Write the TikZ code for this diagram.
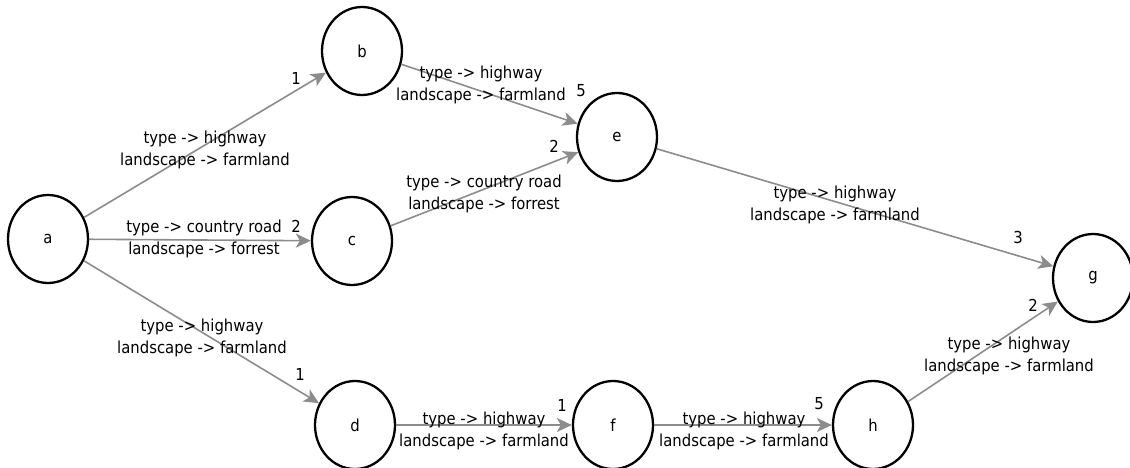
\documentclass[tikz,border=0pt]{standalone}
\usepackage{fontspec}
\setmainfont{DejaVu Sans}[FakeStretch=0.9]
\usetikzlibrary{shapes.geometric,arrows.meta}
\definecolor{edgegray}{RGB}{140,140,140}
\begin{document}
\begin{tikzpicture}[x=1pt,y=-1pt,
  vtx/.style={ellipse,draw=black,line width=2.3pt,minimum width=80pt,minimum height=88pt,inner sep=0pt,font=\fontsize{16.5}{19}\selectfont},
  edge/.style={draw=edgegray,line width=1.6pt,-{Stealth[length=15pt,width=14pt,inset=4pt]}},
  lbl/.style={align=center,font=\fontsize{16.5}{22}\selectfont,inner sep=0pt},
  wt/.style={font=\fontsize{16.5}{19}\selectfont,inner sep=0pt}]
\useasboundingbox (0,0) rectangle (1130,468);
% vertices
\node[vtx] (a) at (48,239) {a};
\node[vtx] (b) at (362,51) {b};
\node[vtx] (c) at (352,241) {c};
\node[vtx] (d) at (355,425) {d};
\node[vtx] (e) at (617,137) {e};
\node[vtx] (f) at (613,425) {f};
\node[vtx] (h) at (873,425) {h};
\node[vtx] (g) at (1093,278) {g};
% edges
\draw[edge] (a) -- (b);
\draw[edge] (a) -- (c);
\draw[edge] (a) -- (d);
\draw[edge] (b) -- (e);
\draw[edge] (c) -- (e);
\draw[edge] (d) -- (f);
\draw[edge] (f) -- (h);
\draw[edge] (e) -- (g);
\draw[edge] (h) -- (g);
% edge labels
\node[lbl] (lab) at (205,150) {type -> highway\\landscape -> farmland};
\node[lbl] (lac) at (204,239) {type -> country road\\landscape -> forrest};
\node[lbl] (lad) at (202,338) {type -> highway\\landscape -> farmland};
\node[lbl] (lbe) at (481,85) {type -> highway\\landscape -> farmland};
\node[lbl] (lce) at (484,194) {type -> country road\\landscape -> forrest};
\node[lbl] (ldf) at (484,431) {type -> highway\\landscape -> farmland};
\node[lbl] (lfh) at (744,431) {type -> highway\\landscape -> farmland};
\node[lbl] (leg) at (835,205) {type -> highway\\landscape -> farmland};
\node[lbl] (lhg) at (1009,356) {type -> highway\\landscape -> farmland};
% weights
\node[wt] (wab) at (296,78) {1};
\node[wt] (wac) at (296,226) {2};
\node[wt] (wad) at (300,374) {1};
\node[wt] (wbe) at (581,91) {5};
\node[wt] (wce) at (554,146) {2};
\node[wt] (wdf) at (562,405) {1};
\node[wt] (wfh) at (819,404) {5};
\node[wt] (weg) at (1018,237) {3};
\node[wt] (whg) at (1033,305) {2};
\end{tikzpicture}
\end{document}
